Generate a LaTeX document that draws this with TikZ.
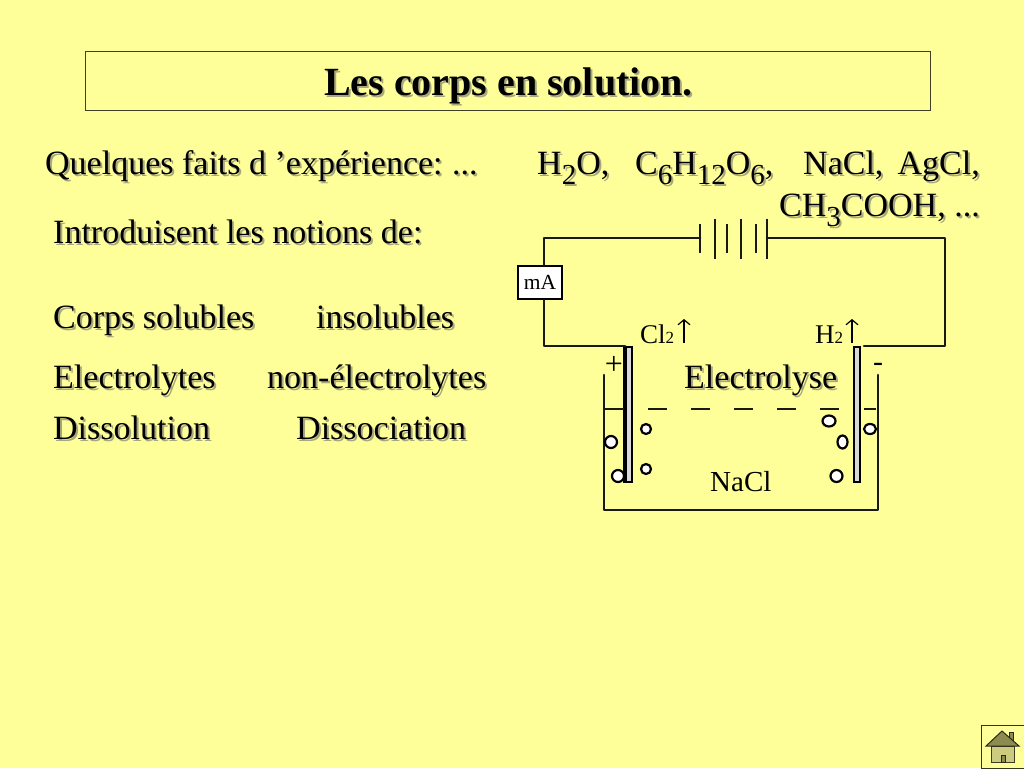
\documentclass[tikz,border=0pt]{standalone}
\usetikzlibrary{arrows.meta}
\usepackage{fontspec}
\setmainfont{Liberation Serif}
\definecolor{bg}{HTML}{FFFF99}
\definecolor{shadowc}{HTML}{A8A87E}
\definecolor{roofc}{HTML}{8C8C50}
\definecolor{wallc}{HTML}{CCCC80}
\newcommand{\sh}[1]{\leavevmode\rlap{\kern2pt\raisebox{-2pt}{\textcolor{shadowc}{#1}}}#1}
\newcommand{\sbs}[1]{\raisebox{-10pt}{\fontsize{29}{29}\selectfont #1}}
\tikzset{
  x=1pt,y=-1pt,
  big/.style={anchor=base west,inner sep=0pt,font=\fontsize{34}{38}\selectfont},
  bigr/.style={anchor=base east,inner sep=0pt,font=\fontsize{34}{38}\selectfont},
  small/.style={anchor=base west,inner sep=0pt,font=\fontsize{27}{30}\selectfont},
  wire/.style={draw=black!90,line width=2.7pt,line join=round,line cap=round},
  thinwire/.style={draw=black!90,line width=2pt,line cap=butt},
  bubble/.style={draw=black,line width=2.2pt,fill=white},
  electrode/.style={draw=black,line width=2.5pt,fill=white!85!black,minimum width=6pt,minimum height=135pt,inner sep=0pt},
}
\begin{document}
\begin{tikzpicture}
\useasboundingbox[fill=bg] (0,0) rectangle (1024,768);
% title
\node[draw=black!75!bg,line width=0.8pt,minimum width=845pt,minimum height=59pt,inner sep=0pt] (titlebox) at (507.5,80.5) {};
\node[anchor=base,inner sep=0pt,font=\bfseries\fontsize{40}{44}\selectfont] (title) at (508.5,95) {\sh{Les corps en solution.}};
% text
\node[big] (t1) at (45,174) {\sh{Quelques faits d ’expérience:\kern-2pt{} ...}};
\node[big] (f1) at (537,174) {\sh{H\sbs{2}O,}};
\node[big] (f2) at (635,174) {\sh{C\sbs{6}H\sbs{12}O\sbs{6},}};
\node[big] (f3) at (803,174) {\sh{NaCl,}};
\node[bigr] (f4) at (980,174) {\sh{AgCl,}};
\node[bigr] (f5) at (980,216) {\sh{CH\sbs{3}COOH, ...}};
\node[big] (t2) at (53,243) {\sh{Introduisent les notions de:}};
\node[big] (a1) at (53,328.5) {\sh{Corps solubles}};
\node[big] (a2) at (316,328.5) {\sh{insolubles}};
\node[big] (b1) at (53,388) {\sh{Electrolytes}};
\node[big] (b2) at (267,388) {\sh{non-électrolytes}};
\node[big] (c1) at (53,439.5) {\sh{Dissolution}};
\node[big] (c2) at (296,439.5) {\sh{Dissociation}};
\node[big] (el) at (684,388) {\sh{Electrolyse}};
% circuit
\node[draw=black,line width=2.6pt,fill=white,minimum width=44pt,minimum height=33pt,inner sep=0pt,font=\fontsize{21.5}{24}\selectfont] (ma) at (540,282.5) {\raisebox{-3pt}{mA}};
\node[electrode] (eL) at (629,414.5) {};
\node[electrode] (eR) at (857,414.5) {};
\draw[line width=4pt,line cap=butt] (eL.north west) -- (eL.south west);
\coordinate (c1a) at (544,238);
\coordinate (c1b) at (544,346);
\coordinate (c2a) at (945,238);
\coordinate (c2b) at (945,346);
\foreach \n/\x/\h in {bA/700/14.5,bB/715/20,bC/727/14.5,bD/741/20,bE/756/14.5,bF/767/20}{
  \coordinate (\n t) at (\x,238.5-\h);
  \coordinate (\n b) at (\x,238.5+\h);
  \draw[wire,line cap=butt] (\n t) -- (\n b);
}
\coordinate (bAm) at (700,238);
\coordinate (bFm) at (767,238);
\coordinate (eLt) at (625,346);
\coordinate (eRt) at (864,346);
\draw[wire] (bAm) -- (c1a) -- (ma.north -| c1a);
\draw[wire] (ma.south -| c1a) -- (c1b) -- (eLt);
\draw[wire] (bFm) -- (c2a) -- (c2b) -- (eRt);
% vessel
\coordinate (v1) at (604,375);
\coordinate (v2) at (604,510);
\coordinate (v3) at (878,510);
\coordinate (v4) at (878,375);
\draw[wire] (v1) -- (v2) -- (v3) -- (v4);
% liquid level
\foreach \a/\b in {605/624,648/667,691/710,734/753,777/796,820/839,864/876}{
  \coordinate (la\a) at (\a,409);
  \coordinate (lb\a) at (\b,409);
  \draw[thinwire] (la\a) -- (lb\a);
}
% bubbles
\node[bubble,circle,minimum size=10pt,inner sep=0pt] (p1) at (646,429) {};
\node[bubble,circle,minimum size=12pt,inner sep=0pt] (p2) at (611,442) {};
\node[bubble,circle,minimum size=12pt,inner sep=0pt] (p3) at (618,476) {};
\node[bubble,circle,minimum size=10pt,inner sep=0pt] (p4) at (646,469) {};
\draw[bubble] (829,421) ellipse (6.5 and 5.5);
\draw[bubble] (842.5,442) ellipse (5 and 6.5);
\draw[bubble] (870,429) ellipse (6 and 5);
\draw[bubble] (836.5,476) ellipse (6 and 6);
% labels
\node[small] (cl) at (640,343) {Cl\raisebox{0pt}{\fontsize{17}{17}\selectfont 2}};
\node[small] (h) at (815,343) {H\raisebox{0pt}{\fontsize{17}{17}\selectfont 2}};
\coordinate (ar1a) at (684,343);
\coordinate (ar1b) at (684,319);
\coordinate (ar2a) at (852,343);
\coordinate (ar2b) at (852,319);
\draw[line width=1.2pt,-{Straight Barb[length=5pt,width=12pt]}] (ar1a) -- (ar1b);
\draw[line width=1.2pt,-{Straight Barb[length=5pt,width=12pt]}] (ar2a) -- (ar2b);
\node[anchor=center,inner sep=0pt,font=\fontsize{32}{34}\selectfont] (plus) at (614,365) {+};
\node[anchor=center,inner sep=0pt,font=\fontsize{30}{32}\selectfont] (minus) at (878,367) {-};
\node[small,font=\fontsize{29}{32}\selectfont] (nacl) at (710,491) {NaCl};
% home button
\node[draw=black!80!bg,line width=1pt,minimum width=43pt,minimum height=43pt,inner sep=0pt,anchor=north west] (home) at (981,725) {};
\fill[wallc,draw=black!70!wallc,line width=1pt] (991,746) rectangle (1014,762);
\fill[roofc,draw=black!70!roofc,line width=1pt] (1009,732) rectangle (1013,742);
\fill[roofc,draw=black!70!roofc,line width=1pt] (1002,731) -- (1019,746) -- (986,746) -- cycle;
\fill[roofc,draw=black!70!roofc,line width=1pt] (1001,755) rectangle (1005,762);
\end{tikzpicture}
\end{document}
